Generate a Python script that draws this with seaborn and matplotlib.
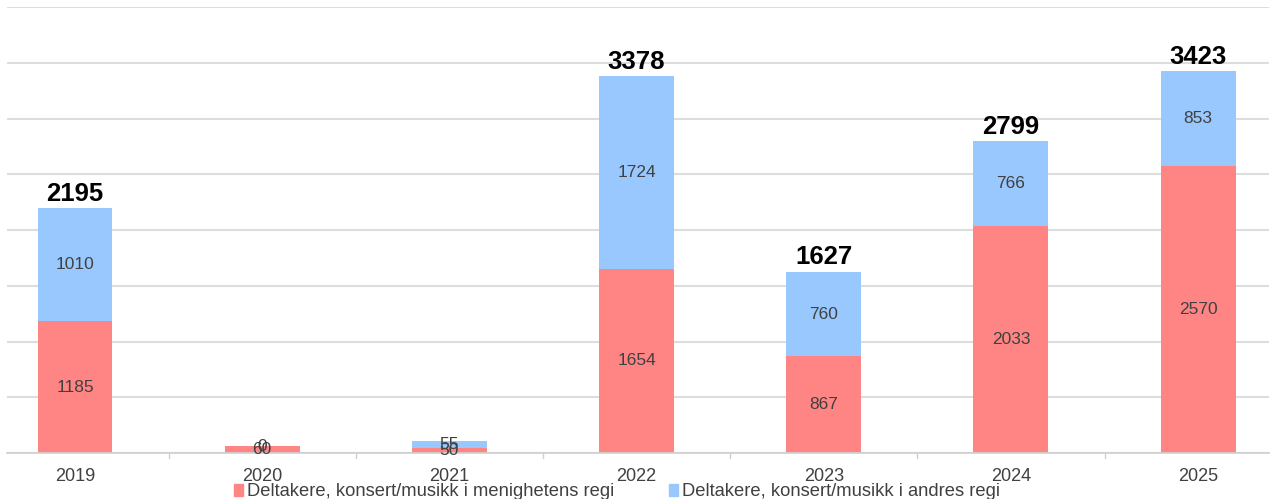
import matplotlib
matplotlib.use("Agg")
import matplotlib.pyplot as plt
import seaborn as sns
import pandas as pd
import numpy as np
from matplotlib.patches import Patch

years = ["2019", "2020", "2021", "2022", "2023", "2024", "2025"]
own = [1185, 60, 50, 1654, 867, 2033, 2570]
others = [1010, 0, 55, 1724, 760, 766, 853]
totals_shown = [2195, None, None, 3378, 1627, 2799, 3423]
series_names = ["Deltakere, konsert/musikk i menighetens regi",
                "Deltakere, konsert/musikk i andres regi"]

red = "#FF8585"
blue = "#99C8FF"

sns.set_theme(style="white")
plt.rcParams["font.family"] = ["Liberation Sans", "DejaVu Sans"]

fig = plt.figure(figsize=(12.75, 4.99), dpi=100)
ax = fig.add_axes([0.0055, 0.092, 0.99, 0.894])

df = pd.DataFrame({"year": years, "own": own, "others": others})
df["total"] = df["own"] + df["others"]

sns.barplot(data=df, x="year", y="total", color=blue, width=0.4, ax=ax,
            saturation=1, edgecolor="none", linewidth=0)
sns.barplot(data=df, x="year", y="own", color=red, width=0.4, ax=ax,
            saturation=1, edgecolor="none", linewidth=0)

x = np.arange(len(years))
for i in range(len(years)):
    ax.text(x[i], own[i] / 2, str(own[i]), ha="center", va="center",
            fontsize=12.5, color="#404040")
    ax.text(x[i], own[i] + others[i] / 2, str(others[i]), ha="center",
            va="center", fontsize=12.5, color="#404040")
    if totals_shown[i] is not None:
        ax.text(x[i], totals_shown[i] + 20, str(totals_shown[i]), ha="center",
                va="bottom", fontsize=18.5, fontweight="bold", color="black")

ax.set_ylim(0, 4000)
ax.set_xlim(-0.363, 6.38)
ax.set_yticks(np.arange(0, 4001, 500))
ax.set_yticklabels([])
ax.tick_params(axis="y", length=0)
ax.grid(axis="y", color="#dddddd", linewidth=1.5)
ax.set_axisbelow(True)
for s in ["top", "right", "left"]:
    ax.spines[s].set_visible(False)
ax.spines["bottom"].set_color("#d0d0d0")
ax.set_xlabel("")
ax.set_ylabel("")
ax.set_xticks(x)
ax.set_xticklabels(years, fontsize=13, color="#404040")
ax.tick_params(axis="x", length=0, pad=11)
for b in np.arange(0.5, 6.0, 1.0):
    ax.plot([b, b], [0, -40], color="#d0d0d0", lw=1, clip_on=False)

handles = [Patch(color=red, label=series_names[0]),
           Patch(color=blue, label=series_names[1])]
fig.legend(handles=handles, loc="lower center", bbox_to_anchor=(0.484, -0.036),
           ncol=2, frameon=False, fontsize=13.2, handlelength=0.5,
           handleheight=0.6, handletextpad=0.2, columnspacing=3.0,
           labelcolor="#404040")

fig.savefig("out.png", dpi=100)
